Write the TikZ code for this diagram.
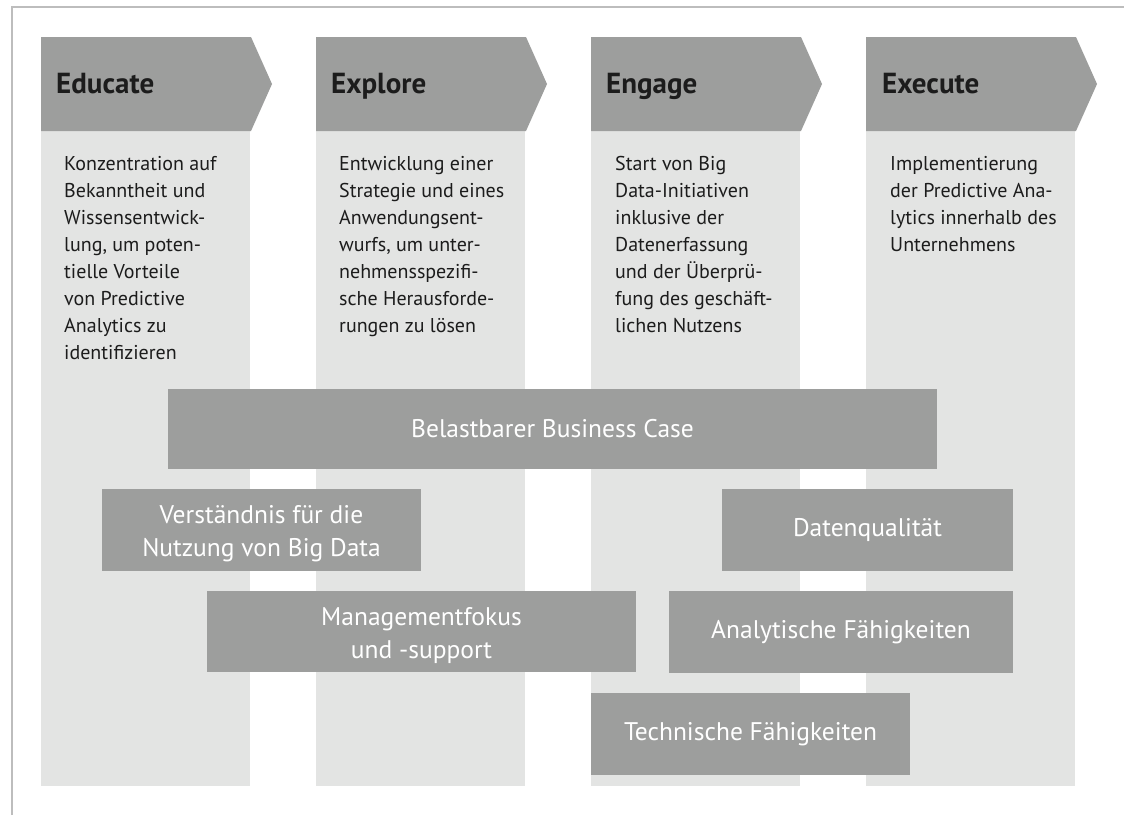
\documentclass[tikz,border=0pt]{standalone}
\usepackage{fontspec}
\setmainfont{PT Sans}
\definecolor{phasegray}{HTML}{9D9E9D}
\definecolor{phaselight}{HTML}{E3E4E3}
\definecolor{framegray}{HTML}{BDBDBD}
\definecolor{inkdark}{HTML}{1C1C1C}
\newcommand{\firstlinestrut}{\rule{0pt}{15pt}}
\begin{document}
\begin{tikzpicture}[x=1pt,y=-1pt,
  headfill/.style={fill=phasegray},
  bodyfill/.style={fill=phaselight},
  headtext/.style={anchor=base west, inner sep=0pt, text=inkdark,
    font=\fontsize{29}{34}\selectfont\bfseries},
  bodytext/.style={anchor=north west, inner sep=0pt, align=left, text=inkdark,
    font=\fontsize{20}{27}\selectfont},
  factor/.style={fill=phasegray, text=white, inner sep=0pt, align=center,
    font=\fontsize{25.5}{33}\selectfont},
  factorlabel/.style={text=white, inner sep=0pt, align=center,
    font=\fontsize{25.5}{33}\selectfont}
]
\useasboundingbox (0,0) rectangle (1124,815);
\fill[white] (0,0) rectangle (1124,815);
% frame lines on top and left
\draw[framegray, line width=1.6pt] (12,815) -- (12,7) -- (1124,7);

% four phase columns: light body and arrow-shaped header
\foreach \L in {41,316,591,866} {
  \fill[bodyfill] (\L,131) rectangle (\L+209,786);
  \fill[headfill] (\L,37) -- (\L+210,37) -- (\L+231,84) -- (\L+210,131) -- (\L,131) -- cycle;
}

% phase titles
\node[headtext] (educate) at (56,93) {Educate};
\node[headtext] (explore) at (331,93) {Explore};
\node[headtext] (engage) at (606,93) {Engage};
\node[headtext] (execute) at (882,93) {Execute};

% phase descriptions
\node[bodytext] (educatetext) at (64,155) {\firstlinestrut Konzentration auf\\Bekanntheit und\\Wissensentwick-\\lung, um poten-\\tielle Vorteile\\von Predictive\\Analytics zu\\identifizieren};
\node[bodytext] (exploretext) at (339,155) {\firstlinestrut Entwicklung einer\\Strategie und eines\\Anwendungsent-\\wurfs, um unter-\\nehmensspezifi-\\sche Herausforde-\\rungen zu lösen};
\node[bodytext] (engagetext) at (615,155) {\firstlinestrut Start von Big\\Data-Initiativen\\inklusive der\\Datenerfassung\\und der Überprü-\\fung des geschäft-\\lichen Nutzens};
\node[bodytext] (executetext) at (890,155) {\firstlinestrut Implementierung\\der Predictive Ana-\\lytics innerhalb des\\Unternehmens};

% success factors: filled bars; two-line labels placed on top, slightly lowered
\node[factor, minimum width=769pt, minimum height=80pt] (businesscase) at (552.5,429) {Belastbarer Business Case};
\node[factor, minimum width=319pt, minimum height=82pt] (verstaendnis) at (261.5,530) {};
\node[factorlabel] (verstaendnislabel) at ([yshift=-4pt]verstaendnis.center) {Verständnis für die\\Nutzung von Big Data};
\node[factor, minimum width=291pt, minimum height=82pt] (datenqualitaet) at (867.5,530) {Datenqualität};
\node[factor, minimum width=429pt, minimum height=81pt] (management) at (421.5,631.5) {};
\node[factorlabel] (managementlabel) at ([yshift=-4pt]management.center) {Managementfokus\\und -support};
\node[factor, minimum width=344pt, minimum height=82pt] (analytisch) at (841,632) {Analytische Fähigkeiten};
\node[factor, minimum width=319pt, minimum height=82pt] (technisch) at (750.5,734) {Technische Fähigkeiten};
\end{tikzpicture}
\end{document}
